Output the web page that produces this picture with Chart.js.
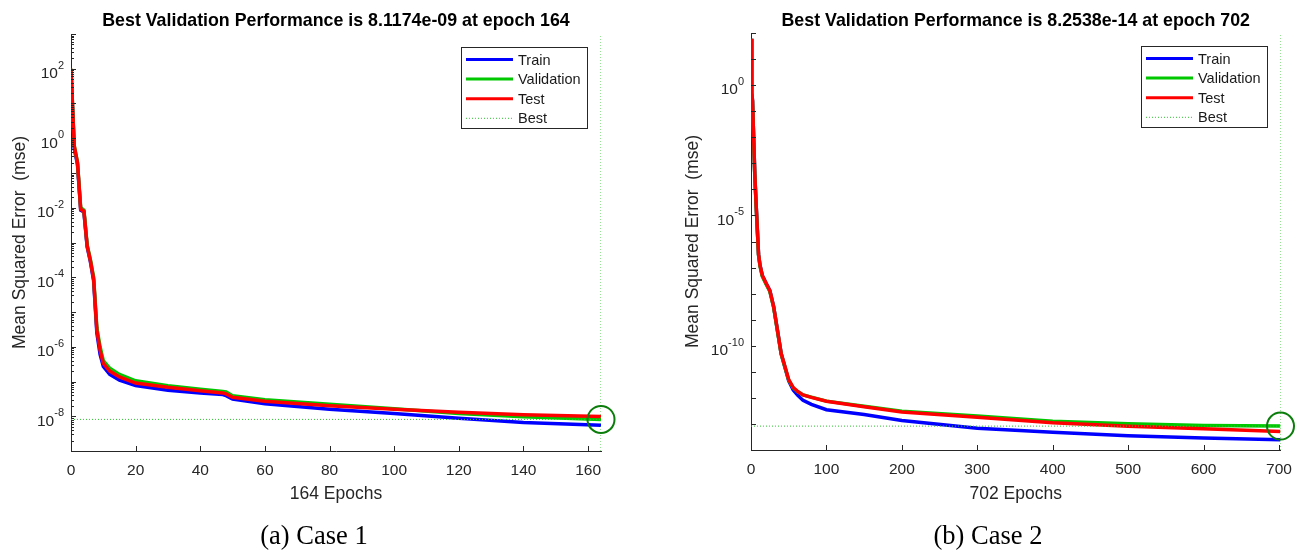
<!DOCTYPE html>
<html lang="en">
<head>
<meta charset="UTF-8">
<title>Best Validation Performance</title>
<script src="https://cdn.jsdelivr.net/npm/chart.js"></script>
<style>
  body { margin: 0; background: #fff; }
  #wrap { position: relative; width: 1306px; height: 553px; overflow: hidden; }
  .pane { position: absolute; top: 0; width: 653px; height: 553px; }
  .caption {
    position: absolute; top: 519px; line-height: 32px;
    font-family: 'Liberation Serif', 'Times New Roman', serif; font-size: 26.5px; color: #000;
    transform: translateX(-50%); white-space: nowrap;
  }
</style>
</head>
<body>
<div id="wrap">
  <div class="pane" style="left:0"><canvas id="case1" width="653" height="553"></canvas></div>
  <div class="pane" style="left:653px"><canvas id="case2" width="653" height="553"></canvas></div>
  <div class="caption" style="left:314px">(a) Case 1</div>
  <div class="caption" style="left:988px">(b) Case 2</div>
</div>

<script>
  // ---- Case 1 (164 epochs) ----
  const case1Epochs = [0, 1, 2, 3, 4, 5, 6, 7, 8, 9, 10, 12, 15, 20, 30, 40, 47, 48, 50, 60, 80, 100, 120, 140, 164];
  const case1Train = [90, 0.5, 0.18, 8.5e-3, 7.5e-3, 7.5e-4, 2.8e-4, 8e-5, 2.5e-6, 6e-7, 2.7e-7, 1.6e-7, 1.1e-7, 7.6e-8, 5.6e-8, 4.7e-8, 4.2e-8, 3.9e-8, 3.1e-8, 2.3e-8, 1.6e-8, 1.2e-8, 8.8e-9, 6.6e-9, 5.5e-9];
  const case1Validation = [100, 0.6, 0.2, 1e-2, 8.5e-3, 8.5e-4, 3.2e-4, 1e-4, 3.5e-6, 1e-6, 4e-7, 2.4e-7, 1.6e-7, 1.05e-7, 7.6e-8, 6e-8, 5.2e-8, 5e-8, 3.9e-8, 3e-8, 2.2e-8, 1.65e-8, 1.2e-8, 9.7e-9, 8.1174e-9];
  const case1Test = [100, 0.6, 0.2, 9e-3, 8e-3, 8e-4, 3e-4, 9e-5, 3e-6, 8e-7, 3.3e-7, 2e-7, 1.35e-7, 9e-8, 6.8e-8, 5.4e-8, 4.7e-8, 4.4e-8, 3.5e-8, 2.7e-8, 2e-8, 1.6e-8, 1.3e-8, 1.1e-8, 9.8e-9];
  const case1BestEpoch = 164;
  const case1BestValue = 8.1174e-9;
  const case1XTicks = [0, 20, 40, 60, 80, 100, 120, 140, 160];
  const case1YExponents = [-9, -8, -7, -6, -5, -4, -3, -2, -1, 0, 1, 2, 3];
  const case1YLabelled = [-8, -6, -4, -2, 0, 2];

  // ---- Case 2 (702 epochs) ----
  const case2Epochs = [0, 1, 2, 3, 5, 7, 8, 10, 12, 15, 20, 25, 30, 35, 40, 45, 50, 56, 62, 69, 80, 100, 150, 200, 300, 400, 500, 600, 702];
  const case2Train = [60, 0.5, 0.26, 0.03, 4e-4, 2e-5, 5e-6, 3.2e-7, 1.2e-7, 5e-8, 2.5e-8, 1.3e-8, 3.2e-9, 4e-10, 5e-11, 1.5e-11, 4.5e-12, 2e-12, 1.25e-12, 8e-13, 5.6e-13, 3.5e-13, 2.3e-13, 1.35e-13, 6.8e-14, 4.8e-14, 3.5e-14, 2.9e-14, 2.5e-14];
  const case2Validation = [60, 0.4, 0.24, 0.025, 3.5e-4, 1.8e-5, 4.5e-6, 3e-7, 1.1e-7, 4.6e-8, 2.3e-8, 1.2e-8, 3e-9, 3.8e-10, 4.8e-11, 1.5e-11, 4.8e-12, 2.4e-12, 1.7e-12, 1.3e-12, 1.07e-12, 7.5e-13, 4.8e-13, 3.1e-13, 2.0e-13, 1.26e-13, 1.02e-13, 8.7e-14, 8.2538e-14];
  const case2Test = [60, 0.5, 0.26, 0.03, 4e-4, 2e-5, 5e-6, 3.2e-7, 1.2e-7, 5e-8, 2.5e-8, 1.3e-8, 3.2e-9, 4e-10, 5e-11, 1.6e-11, 5e-12, 2.5e-12, 1.75e-12, 1.3e-12, 1.05e-12, 7.4e-13, 4.6e-13, 2.9e-13, 1.8e-13, 1.1e-13, 8.1e-14, 6.5e-14, 5.1e-14];
  const case2BestEpoch = 702;
  const case2BestValue = 8.2538e-14;
  const case2XTicks = [0, 100, 200, 300, 400, 500, 600, 700];
  const case2YExponents = [-14, -13, -12, -11, -10, -9, -8, -7, -6, -5, -4, -3, -2, -1, 0, 1, 2];
  const case2YLabelled = [-10, -5, 0];

  const AXIS = '#262626';
  const SANS = '"Liberation Sans", Arial, Helvetica, sans-serif';

  // MATLAB-like decorations: inward ticks, 10^n labels, title, boxed legend
  const decor = {
    id: 'decor',
    afterDraw(chart, args, o) {
      const {ctx, chartArea: a, scales: {x, y}} = chart;
      ctx.save();
      ctx.strokeStyle = AXIS;
      ctx.lineWidth = 1;
      ctx.beginPath();
      x.ticks.forEach(t => {
        const px = Math.round(x.getPixelForValue(t.value)) + 0.5;
        ctx.moveTo(px, a.bottom); ctx.lineTo(px, a.bottom - 5);
      });
      o.exponents.forEach(e => {
        const py = Math.round(y.getPixelForValue(Math.pow(10, e))) + 0.5;
        ctx.moveTo(a.left, py); ctx.lineTo(a.left + 5, py);
        if (o.minor && e < o.exponents[o.exponents.length - 1]) {
          for (let m = 2; m < 10; m++) {
            const my = Math.round(y.getPixelForValue(m * Math.pow(10, e))) + 0.5;
            ctx.moveTo(a.left, my); ctx.lineTo(a.left + 3, my);
          }
        }
      });
      ctx.stroke();

      // y tick labels 10^n
      ctx.fillStyle = AXIS;
      ctx.textBaseline = 'middle';
      ctx.textAlign = 'left';
      const baseFont = '15.5px ' + SANS, supFont = '11px ' + SANS;
      o.labelled.forEach(e => {
        const py = y.getPixelForValue(Math.pow(10, e));
        const exp = String(e);
        ctx.font = supFont; const ew = ctx.measureText(exp).width;
        ctx.font = baseFont; const bw = ctx.measureText('10').width;
        const right = a.left - 7;
        ctx.fillText('10', right - ew - bw, py + 5);
        ctx.font = supFont;
        ctx.fillText(exp, right - ew, py - 3);
      });

      // title
      ctx.fillStyle = '#000';
      ctx.font = 'bold 17.8px ' + SANS;
      ctx.textAlign = 'center';
      ctx.fillText(o.title, (a.left + a.right) / 2, 21);

      // legend
      const items = chart.data.datasets.filter(d => d.inLegend);
      const w = 126, h = 81;
      const lx = Math.round(a.right - o.legendRight - w), ly = Math.round(a.top + 13);
      ctx.fillStyle = '#fff';
      ctx.fillRect(lx, ly, w, h);
      ctx.strokeStyle = AXIS;
      ctx.strokeRect(lx + 0.5, ly + 0.5, w, h);
      ctx.font = '14.5px ' + SANS;
      ctx.textAlign = 'left';
      items.forEach((d, i) => {
        const yy = ly + 12.5 + i * 19.6;
        ctx.beginPath();
        ctx.strokeStyle = d.borderColor;
        ctx.lineWidth = d.borderDash ? 1 : 3;
        ctx.setLineDash(d.borderDash || []);
        ctx.moveTo(lx + 5, yy); ctx.lineTo(lx + 52, yy);
        ctx.stroke();
        ctx.setLineDash([]);
        ctx.fillStyle = '#1a1a1a';
        ctx.fillText(d.label, lx + 57, yy + 1);
      });
      ctx.restore();
    }
  };

  function buildChart(id, c) {
    const pts = vals => c.epochs.map((e, i) => ({x: e, y: vals[i]}));
    const curve = (label, vals, color, order) => ({
      label, data: pts(vals), borderColor: color, borderWidth: 3.5,
      pointRadius: 0, tension: 0, fill: false, order, inLegend: true
    });
    const dotted = {borderColor: '#2fc42f', borderWidth: 1, borderDash: [1, 2], pointRadius: 0, fill: false};
    return new Chart(document.getElementById(id), {
      type: 'line',
      data: {
        datasets: [
          curve('Train', c.train, '#0000ff', 5),
          curve('Validation', c.validation, '#00c800', 4),
          curve('Test', c.test, '#ff0000', 3),
          Object.assign({label: 'Best', data: [{x: 0, y: c.best}, {x: c.bestEpoch, y: c.best}], order: 2, inLegend: true}, dotted),
          Object.assign({label: 'Best', data: [{x: c.bestEpoch, y: c.yMin}, {x: c.bestEpoch, y: c.yMax}], order: 2}, dotted),
          {
            label: 'Best point', data: [{x: c.bestEpoch, y: c.best}], showLine: false, order: 1,
            pointRadius: 13.5, pointBorderWidth: 2, pointBorderColor: '#0b7d0b',
            pointBackgroundColor: 'rgba(0,0,0,0)', clip: false
          }
        ]
      },
      options: {
        responsive: false,
        animation: false,
        events: [],
        layout: {padding: {left: 0, right: c.padRight, top: c.padTop, bottom: 0}},
        scales: {
          x: {
            type: 'linear', min: 0, max: c.bestEpoch,
            afterBuildTicks: s => { s.ticks = c.xTicks.map(v => ({value: v})); },
            afterFit: s => { s.height = 553 - c.bottom; },
            grid: {display: true, drawOnChartArea: false, drawTicks: false},
            border: {display: true, color: AXIS, width: 1},
            ticks: {color: AXIS, padding: 10, maxRotation: 0, autoSkip: false, font: {family: SANS, size: 15.5}},
            title: {display: true, text: c.bestEpoch + ' Epochs', color: AXIS, padding: {top: 0, bottom: 48.5}, font: {family: SANS, size: 17.5}}
          },
          y: {
            type: 'logarithmic', min: c.yMin, max: c.yMax,
            afterBuildTicks: s => { s.ticks = c.yExponents.map(e => ({value: Math.pow(10, e)})); },
            afterFit: s => { s.width = c.left; },
            grid: {display: true, drawOnChartArea: false, drawTicks: false},
            border: {display: true, color: AXIS, width: 1},
            ticks: {display: false},
            title: {display: true, text: 'Mean Squared Error  (mse)', color: AXIS, padding: {top: c.yTitlePad, bottom: 0}, font: {family: SANS, size: 17.5}}
          }
        },
        plugins: {
          legend: {display: false},
          tooltip: {enabled: false},
          decor: {
            title: c.title, exponents: c.yExponents, labelled: c.yLabelled,
            minor: c.minor, legendRight: c.legendRight
          }
        }
      },
      plugins: [decor]
    });
  }

  buildChart('case1', {
    epochs: case1Epochs, train: case1Train, validation: case1Validation, test: case1Test,
    best: case1BestValue, bestEpoch: case1BestEpoch, xTicks: case1XTicks,
    yExponents: case1YExponents, yLabelled: case1YLabelled, yMin: 1e-9, yMax: 1e3, minor: true,
    title: 'Best Validation Performance is 8.1174e-09 at epoch 164',
    left: 71, padRight: 52, padTop: 34, bottom: 451, yTitlePad: 9.5, legendRight: 14
  });

  buildChart('case2', {
    epochs: case2Epochs, train: case2Train, validation: case2Validation, test: case2Test,
    best: case2BestValue, bestEpoch: case2BestEpoch, xTicks: case2XTicks,
    yExponents: case2YExponents, yLabelled: case2YLabelled, yMin: 1e-14, yMax: 1e2, minor: false,
    title: 'Best Validation Performance is 8.2538e-14 at epoch 702',
    left: 98, padRight: 25.5, padTop: 33, bottom: 450, yTitlePad: 29.5, legendRight: 13.5
  });
</script>
</body>
</html>
